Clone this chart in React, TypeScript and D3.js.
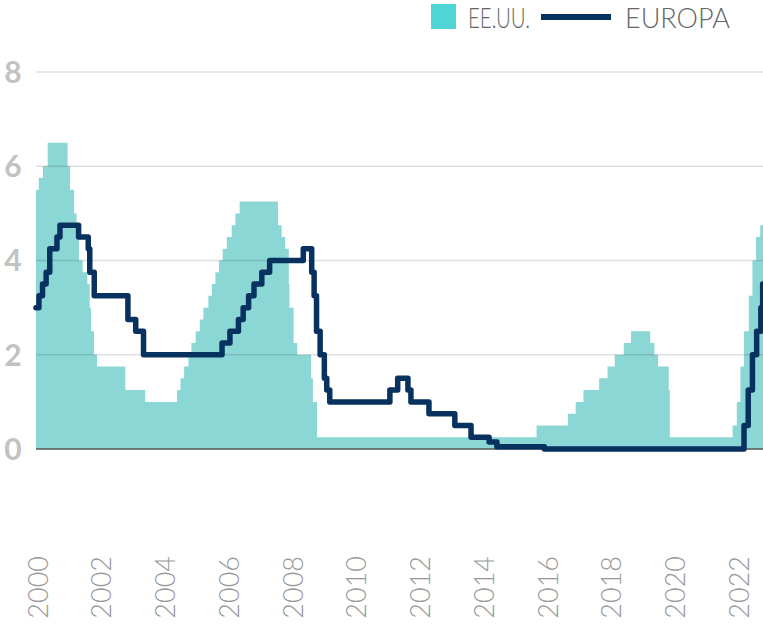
import React from "react";
import * as d3 from "d3";

const W = 763;
const H = 628;

// Fed funds target (upper bound) – change dates and values
const fedDates = [
  "2000-01-01", "2000-02-02", "2000-03-21", "2000-05-16", "2001-01-03", "2001-01-31", "2001-03-20", "2001-04-18",
  "2001-05-15", "2001-06-27", "2001-08-21", "2001-09-17", "2001-10-02", "2001-11-06", "2001-12-11", "2002-11-06",
  "2003-06-25", "2004-06-30", "2004-08-10", "2004-09-21", "2004-11-10", "2004-12-14", "2005-02-02", "2005-03-22",
  "2005-05-03", "2005-06-30", "2005-08-09", "2005-09-20", "2005-11-01", "2005-12-13", "2006-01-31", "2006-03-28",
  "2006-05-10", "2006-06-29", "2007-09-18", "2007-10-31", "2007-12-11", "2008-01-22", "2008-01-30", "2008-03-18",
  "2008-04-30", "2008-10-08", "2008-10-29", "2008-12-16", "2015-12-16", "2016-12-14", "2017-03-15", "2017-06-14",
  "2017-12-13", "2018-03-21", "2018-06-13", "2018-09-26", "2018-12-19", "2019-07-31", "2019-09-18", "2019-10-30",
  "2020-03-03", "2020-03-15", "2022-03-16", "2022-05-04", "2022-06-15", "2022-07-27", "2022-09-21", "2022-11-02",
  "2022-12-14", "2023-02-01", "2023-03-05",
];
const fedValues = [
  5.5, 5.75, 6.0, 6.5, 6.0, 5.5, 5.0, 4.5,
  4.0, 3.75, 3.5, 3.0, 2.5, 2.0, 1.75, 1.25,
  1.0, 1.25, 1.5, 1.75, 2.0, 2.25, 2.5, 2.75,
  3.0, 3.25, 3.5, 3.75, 4.0, 4.25, 4.5, 4.75,
  5.0, 5.25, 4.75, 4.5, 4.25, 3.5, 3.0, 2.25,
  2.0, 1.5, 1.0, 0.25, 0.5, 0.75, 1.0, 1.25,
  1.5, 1.75, 2.0, 2.25, 2.5, 2.25, 2.0, 1.75,
  1.25, 0.25, 0.5, 1.0, 1.75, 2.5, 3.25, 4.0,
  4.5, 4.75, 4.9,
];

// ECB main refinancing rate – change dates and values
const ecbDates = [
  "2000-01-01", "2000-02-04", "2000-03-17", "2000-04-28", "2000-06-09", "2000-09-01", "2000-10-06", "2001-05-11",
  "2001-08-31", "2001-09-18", "2001-11-09", "2002-12-06", "2003-03-07", "2003-06-06", "2005-12-06", "2006-03-08",
  "2006-06-15", "2006-08-09", "2006-10-11", "2006-12-13", "2007-03-14", "2007-06-13", "2008-07-09", "2008-10-15",
  "2008-11-12", "2008-12-10", "2009-01-21", "2009-03-11", "2009-04-08", "2009-05-13", "2011-04-13", "2011-07-13",
  "2011-11-09", "2011-12-14", "2012-07-11", "2013-05-08", "2013-11-13", "2014-06-11", "2014-09-10", "2016-03-16",
  "2022-07-27", "2022-09-14", "2022-11-02", "2022-12-21", "2023-02-08", "2023-03-01", "2023-03-05",
];
const ecbValues = [
  3.0, 3.25, 3.5, 3.75, 4.25, 4.5, 4.75, 4.5,
  4.25, 3.75, 3.25, 2.75, 2.5, 2.0, 2.25, 2.5,
  2.75, 3.0, 3.25, 3.5, 3.75, 4.0, 4.25, 3.75,
  3.25, 2.5, 2.0, 1.5, 1.25, 1.0, 1.25, 1.5,
  1.25, 1.0, 0.75, 0.5, 0.25, 0.15, 0.05, 0.0,
  0.5, 1.25, 2.0, 2.5, 3.0, 3.5, 3.5,
];

const yTicks = [0, 2, 4, 6, 8];
const xTickYears = [2000, 2002, 2004, 2006, 2008, 2010, 2012, 2014, 2016, 2018, 2020, 2022];
const legendLabels = ["EE.UU.", "EUROPA"];

const parse = d3.timeParse("%Y-%m-%d");

export default function App() {
  const fed = fedDates.map((d, i) => ({ date: parse(d) as Date, value: fedValues[i] }));
  const ecb = ecbDates.map((d, i) => ({ date: parse(d) as Date, value: ecbValues[i] }));

  const x = d3
    .scaleTime()
    .domain([new Date(2000, 0, 1), new Date(2023, 2, 5)])
    .range([36, 763]);
  const xLabel = d3.scaleLinear().domain([2000, 2022]).range([38, 739]);
  const y = d3.scaleLinear().domain([0, 8]).range([449, 72]);

  const area = d3
    .area<{ date: Date; value: number }>()
    .x((d) => x(d.date))
    .y0(y(0))
    .y1((d) => y(d.value))
    .curve(d3.curveStepAfter);

  const line = d3
    .line<{ date: Date; value: number }>()
    .x((d) => x(d.date))
    .y((d) => y(d.value))
    .curve(d3.curveStepAfter);

  const navy = "#07325f";
  const teal = "#8bd7d6";

  return (
    <svg
      width={W}
      height={H}
      style={{ position: "absolute", left: 0, top: 0, background: "#fff" }}
    >
      <defs>
        <clipPath id="plot">
          <rect x={0} y={0} width={763} height={460} />
        </clipPath>
      </defs>

      <path d={area(fed) || ""} fill={teal} clipPath="url(#plot)" />

      {yTicks
        .filter((t) => t !== 0)
        .map((t) => (
          <line
            key={t}
            x1={36}
            x2={763}
            y1={y(t)}
            y2={y(t)}
            stroke="#000"
            strokeOpacity={0.13}
            strokeWidth={1.5}
          />
        ))}
      <line x1={36} x2={763} y1={y(0)} y2={y(0)} stroke="#555" strokeWidth={1.3} />

      <path
        d={line(ecb) || ""}
        fill="none"
        stroke={navy}
        strokeWidth={5.5}
        strokeLinejoin="round"
        strokeLinecap="round"
        clipPath="url(#plot)"
      />

      {yTicks.map((t) => (
        <text
          key={t}
          x={13}
          y={y(t)}
          dy="0.36em"
          textAnchor="middle"
          fontFamily="Lato, sans-serif"
          fontWeight={700}
          fontSize={30}
          fill="#c2c2c2"
        >
          {t}
        </text>
      ))}

      {xTickYears.map((yr) => (
        <text
          key={yr}
          transform={`translate(${xLabel(yr)},556) rotate(-90)`}
          textAnchor="end"
          dy="0.36em"
          fontFamily="Lato, sans-serif"
          fontWeight={300}
          fontSize={27}
          fill="#999"
        >
          {yr}
        </text>
      ))}

      <g fontFamily="Lato, sans-serif" fontWeight={300} fontSize={27} fill="#666">
        <rect x={431} y={4} width={25} height={25} fill="#50d5d6" />
        <text x={468} y={28} textLength={62} lengthAdjust="spacingAndGlyphs">
          {legendLabels[0]}
        </text>
        <line x1={541} x2={611} y1={17} y2={17} stroke={navy} strokeWidth={6} />
        <text x={625} y={28} textLength={105} lengthAdjust="spacingAndGlyphs">
          {legendLabels[1]}
        </text>
      </g>
    </svg>
  );
}
